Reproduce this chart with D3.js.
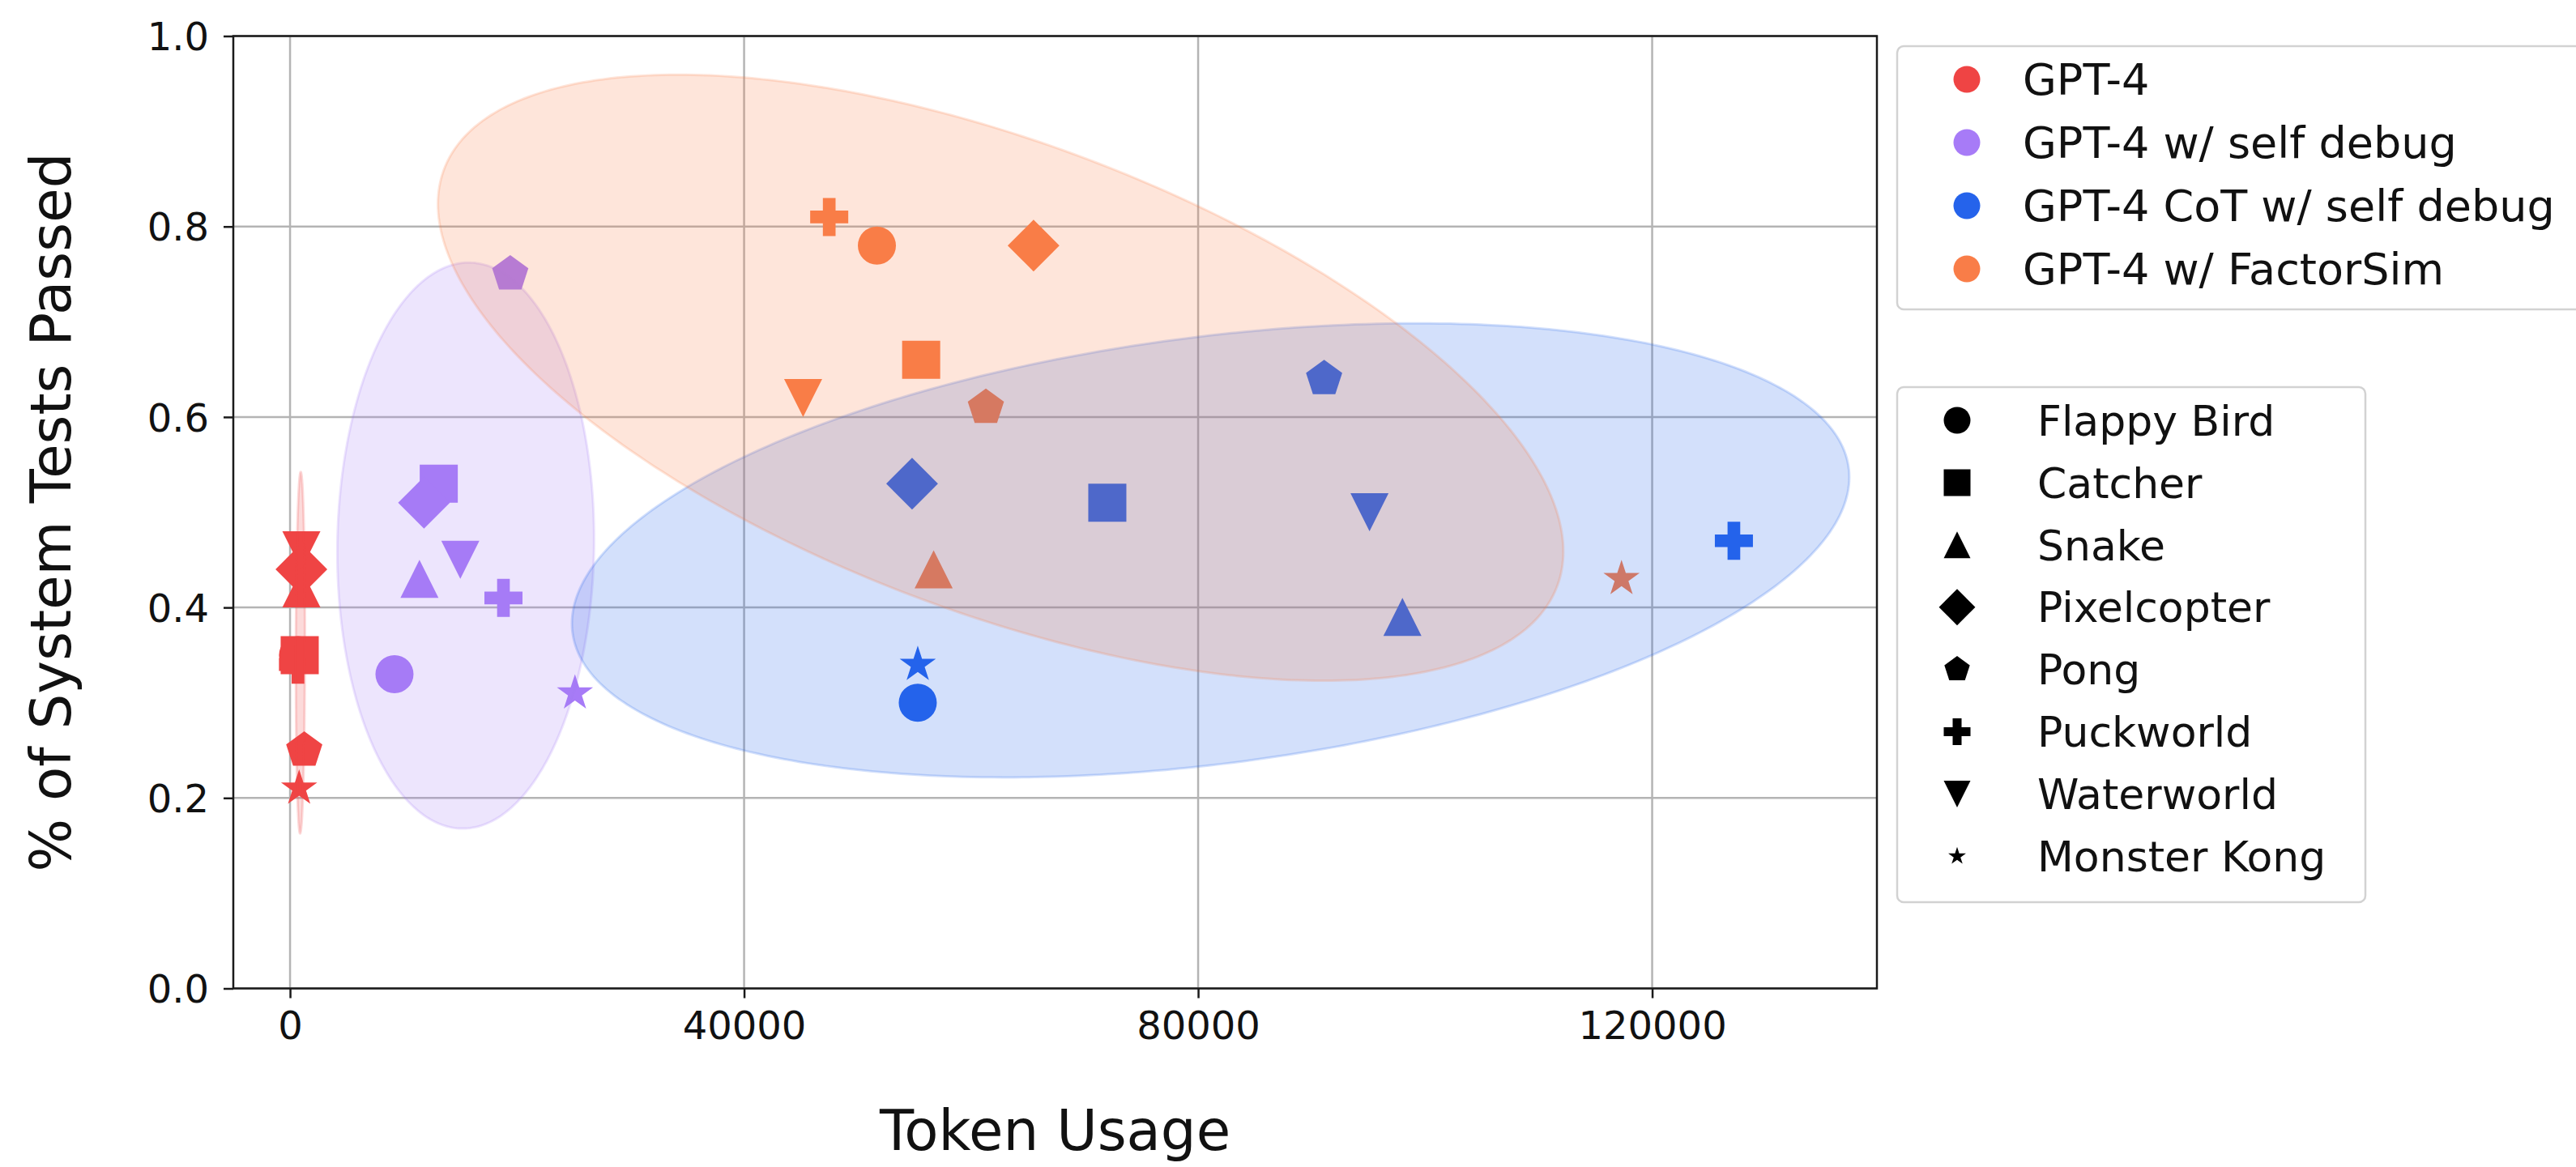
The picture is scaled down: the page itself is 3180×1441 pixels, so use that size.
<!DOCTYPE html>
<html>
<head>
<meta charset="utf-8">
<script src="https://cdn.jsdelivr.net/npm/d3@7"></script>
<style>
  body { margin: 0; background: #fff; }
  svg { display: block; }
  text { font-family: "DejaVu Sans", sans-serif; fill: #111; }
</style>
</head>
<body>
<svg id="chart" width="3180" height="1441"></svg>
<script>
// ---- data -------------------------------------------------------------
const games = ["Flappy Bird", "Catcher", "Snake", "Pixelcopter", "Pong", "Puckworld", "Waterworld", "Monster Kong"];
const methods = ["GPT-4", "GPT-4 w/ self debug", "GPT-4 CoT w/ self debug", "GPT-4 w/ FactorSim"];

// token usage / fraction of system tests passed, one entry per game (order of `games`)
const gpt4Tokens      = [700, 850, 1000, 1000, 1250, 700, 1000, 800];
const gpt4Pass        = [0.35, 0.35, 0.42, 0.44, 0.25, 0.34, 0.46, 0.21];
const selfDebugTokens = [9200, 13100, 11400, 11800, 19400, 18800, 15000, 25100];
const selfDebugPass   = [0.33, 0.53, 0.43, 0.51, 0.75, 0.41, 0.45, 0.31];
const cotTokens       = [55300, 72000, 98000, 54800, 91100, 127200, 95100, 55300];
const cotPass         = [0.30, 0.51, 0.39, 0.53, 0.64, 0.47, 0.50, 0.34];
const factorTokens    = [51700, 55600, 56700, 65500, 61300, 47500, 45200, 117300];
const factorPass      = [0.78, 0.66, 0.44, 0.78, 0.61, 0.81, 0.62, 0.43];

const xTicks = [0, 40000, 80000, 120000];
const yTicks = [0.0, 0.2, 0.4, 0.6, 0.8, 1.0];

// ---- styling ------------------------------------------------------------
const methodColors = ["#EF4444", "#A77BF7", "#2563EB", "#F97D48"];
const gameShapes = ["circle", "square", "triangleUp", "diamond", "pentagon", "plus", "triangleDown", "star"];
const series = [
  { tokens: gpt4Tokens, pass: gpt4Pass },
  { tokens: selfDebugTokens, pass: selfDebugPass },
  { tokens: cotTokens, pass: cotPass },
  { tokens: factorTokens, pass: factorPass }
];

// matplotlib-like marker shapes, `s` = marker size in px
const shapeTypes = {
  circle: { draw(c, s) { const r = s / 2; c.moveTo(r, 0); c.arc(0, 0, r, 0, 2 * Math.PI); } },
  square: { draw(c, s) { const r = s / 2; c.rect(-r, -r, s, s); } },
  triangleUp: { draw(c, s) { const r = s / 2; c.moveTo(0, -r); c.lineTo(r, r); c.lineTo(-r, r); c.closePath(); } },
  triangleDown: { draw(c, s) { const r = s / 2; c.moveTo(0, r); c.lineTo(-r, -r); c.lineTo(r, -r); c.closePath(); } },
  diamond: { draw(c, s) { const r = s * 0.68; c.moveTo(0, -r); c.lineTo(r, 0); c.lineTo(0, r); c.lineTo(-r, 0); c.closePath(); } },
  pentagon: { draw(c, s) {
    const r = s / 2;
    for (let i = 0; i < 5; i++) {
      const a = -Math.PI / 2 + i * 2 * Math.PI / 5;
      i ? c.lineTo(r * Math.cos(a), r * Math.sin(a)) : c.moveTo(r * Math.cos(a), r * Math.sin(a));
    }
    c.closePath();
  } },
  plus: { draw(c, s) {
    const a = s / 6, b = s / 2;
    const pts = [[-a, -b], [a, -b], [a, -a], [b, -a], [b, a], [a, a], [a, b], [-a, b], [-a, a], [-b, a], [-b, -a], [-a, -a]];
    pts.forEach((p, i) => i ? c.lineTo(p[0], p[1]) : c.moveTo(p[0], p[1]));
    c.closePath();
  } },
  star: { draw(c, s) {
    const R = s / 2, r = R * 0.381966;
    for (let i = 0; i < 10; i++) {
      const a = -Math.PI / 2 + i * Math.PI / 5, rr = i % 2 ? r : R;
      i ? c.lineTo(rr * Math.cos(a), rr * Math.sin(a)) : c.moveTo(rr * Math.cos(a), rr * Math.sin(a));
    }
    c.closePath();
  } }
};
const symbolPath = (shape, size) => d3.symbol().type(shapeTypes[shape]).size(size)();

// ---- layout -------------------------------------------------------------
const svg = d3.select("#chart");
const plotLeft = 288, plotRight = 2317, plotTop = 44.5, plotBottom = 1220.5;
const x = d3.scaleLinear().domain([-5000, 139800]).range([plotLeft, plotRight]);
const y = d3.scaleLinear().domain([0, 1]).range([plotBottom, plotTop]);
const markerSize = 47;

svg.append("defs").append("clipPath").attr("id", "plotClip")
  .append("rect").attr("x", plotLeft).attr("y", plotTop)
  .attr("width", plotRight - plotLeft).attr("height", plotBottom - plotTop);

// grid
const grid = svg.append("g").attr("stroke", "#b4b4b4").attr("stroke-width", 2.5);
grid.selectAll("line.gx").data(xTicks).join("line").attr("class", "gx")
  .attr("x1", d => x(d)).attr("x2", d => x(d)).attr("y1", plotTop).attr("y2", plotBottom);
grid.selectAll("line.gy").data(yTicks).join("line").attr("class", "gy")
  .attr("x1", plotLeft).attr("x2", plotRight).attr("y1", d => y(d)).attr("y2", d => y(d));

const plot = svg.append("g").attr("clip-path", "url(#plotClip)");

// scatter markers
series.forEach((s, m) => {
  plot.append("g").selectAll("path").data(games.map((g, i) => ({ i, tx: s.tokens[i], p: s.pass[i] })))
    .join("path")
    .attr("d", d => symbolPath(gameShapes[d.i], markerSize))
    .attr("transform", d => `translate(${x(d.tx)},${y(d.p)})`)
    .attr("fill", methodColors[m]);
});

// 90% confidence ellipse per method from the sample covariance of its points
const kScale = Math.sqrt(-2 * Math.log(1 - 0.9));
function confidenceEllipse(xs, ys) {
  const n = xs.length;
  const mx = d3.mean(xs), my = d3.mean(ys);
  let sxx = 0, syy = 0, sxy = 0;
  for (let i = 0; i < n; i++) {
    const dx = xs[i] - mx, dy = ys[i] - my;
    sxx += dx * dx; syy += dy * dy; sxy += dx * dy;
  }
  sxx /= n - 1; syy /= n - 1; sxy /= n - 1;
  // Cholesky factor of the covariance maps the unit circle onto the ellipse
  const l11 = Math.sqrt(sxx), l21 = sxy / l11, l22 = Math.sqrt(Math.max(syy - l21 * l21, 0));
  return d3.range(0, 361).map(a => {
    const t = a * Math.PI / 180, c = Math.cos(t), s = Math.sin(t);
    return [mx + kScale * l11 * c, my + kScale * (l21 * c + l22 * s)];
  });
}
const ellipseLine = d3.line().x(d => x(d[0])).y(d => y(d[1]));
series.forEach((s, m) => {
  plot.append("path")
    .attr("d", ellipseLine(confidenceEllipse(s.tokens, s.pass)) + "Z")
    .attr("fill", methodColors[m]).attr("fill-opacity", 0.2)
    .attr("stroke", methodColors[m]).attr("stroke-opacity", 0.2).attr("stroke-width", 3);
});

// frame
svg.append("rect").attr("x", plotLeft).attr("y", plotTop)
  .attr("width", plotRight - plotLeft).attr("height", plotBottom - plotTop)
  .attr("fill", "none").attr("stroke", "#1a1a1a").attr("stroke-width", 2.5);

// axes
const xAxis = svg.append("g").attr("transform", `translate(0,${plotBottom})`)
  .call(d3.axisBottom(x).tickValues(xTicks).tickFormat(d3.format("d")).tickSize(12).tickPadding(16));
const yAxis = svg.append("g").attr("transform", `translate(${plotLeft},0)`)
  .call(d3.axisLeft(y).tickValues(yTicks).tickFormat(d3.format(".1f")).tickSize(12).tickPadding(18));
[xAxis, yAxis].forEach(g => {
  g.select(".domain").remove();
  g.selectAll(".tick line").attr("stroke", "#1a1a1a").attr("stroke-width", 2.5);
  g.selectAll(".tick text").attr("font-size", 48).attr("font-family", "DejaVu Sans, sans-serif").attr("fill", "#111");
});
yAxis.selectAll(".tick text").attr("dy", "0.36em");

// axis titles
svg.append("text").attr("x", (plotLeft + plotRight) / 2).attr("y", 1420)
  .attr("text-anchor", "middle").attr("font-size", 69).text("Token Usage");
svg.append("text").attr("transform", `translate(87,${(plotTop + plotBottom) / 2}) rotate(-90)`)
  .attr("text-anchor", "middle").attr("font-size", 69).text("% of System Tests Passed");

// legends
function legendBox(x0, y0, w, h) {
  svg.append("rect").attr("x", x0).attr("y", y0).attr("width", w).attr("height", h).attr("rx", 8)
    .attr("fill", "#fff").attr("fill-opacity", 0.8).attr("stroke", "#d2d2d2").attr("stroke-width", 2.5);
}

// method legend (colour)
legendBox(2342, 57, 900, 325);
const methodRows = svg.append("g").selectAll("g").data(methods).join("g")
  .attr("transform", (d, i) => `translate(0,${98 + i * 78})`);
methodRows.append("path").attr("d", symbolPath("circle", 33))
  .attr("transform", "translate(2428,0)").attr("fill", (d, i) => methodColors[i]);
methodRows.append("text").attr("x", 2497).attr("dy", "0.36em")
  .attr("font-size", 54).text(d => d);

// game legend (marker shape)
legendBox(2342, 478, 578, 636);
const gameRows = svg.append("g").selectAll("g").data(games).join("g")
  .attr("transform", (d, i) => `translate(0,${519 + i * 76.9})`);
gameRows.append("path").attr("d", (d, i) => symbolPath(gameShapes[i], gameShapes[i] === "star" ? 23 : 33))
  .attr("transform", "translate(2416,0)").attr("fill", "#000");
gameRows.append("text").attr("x", 2515).attr("dy", "0.36em")
  .attr("font-size", 52).text(d => d);
</script>
</body>
</html>
